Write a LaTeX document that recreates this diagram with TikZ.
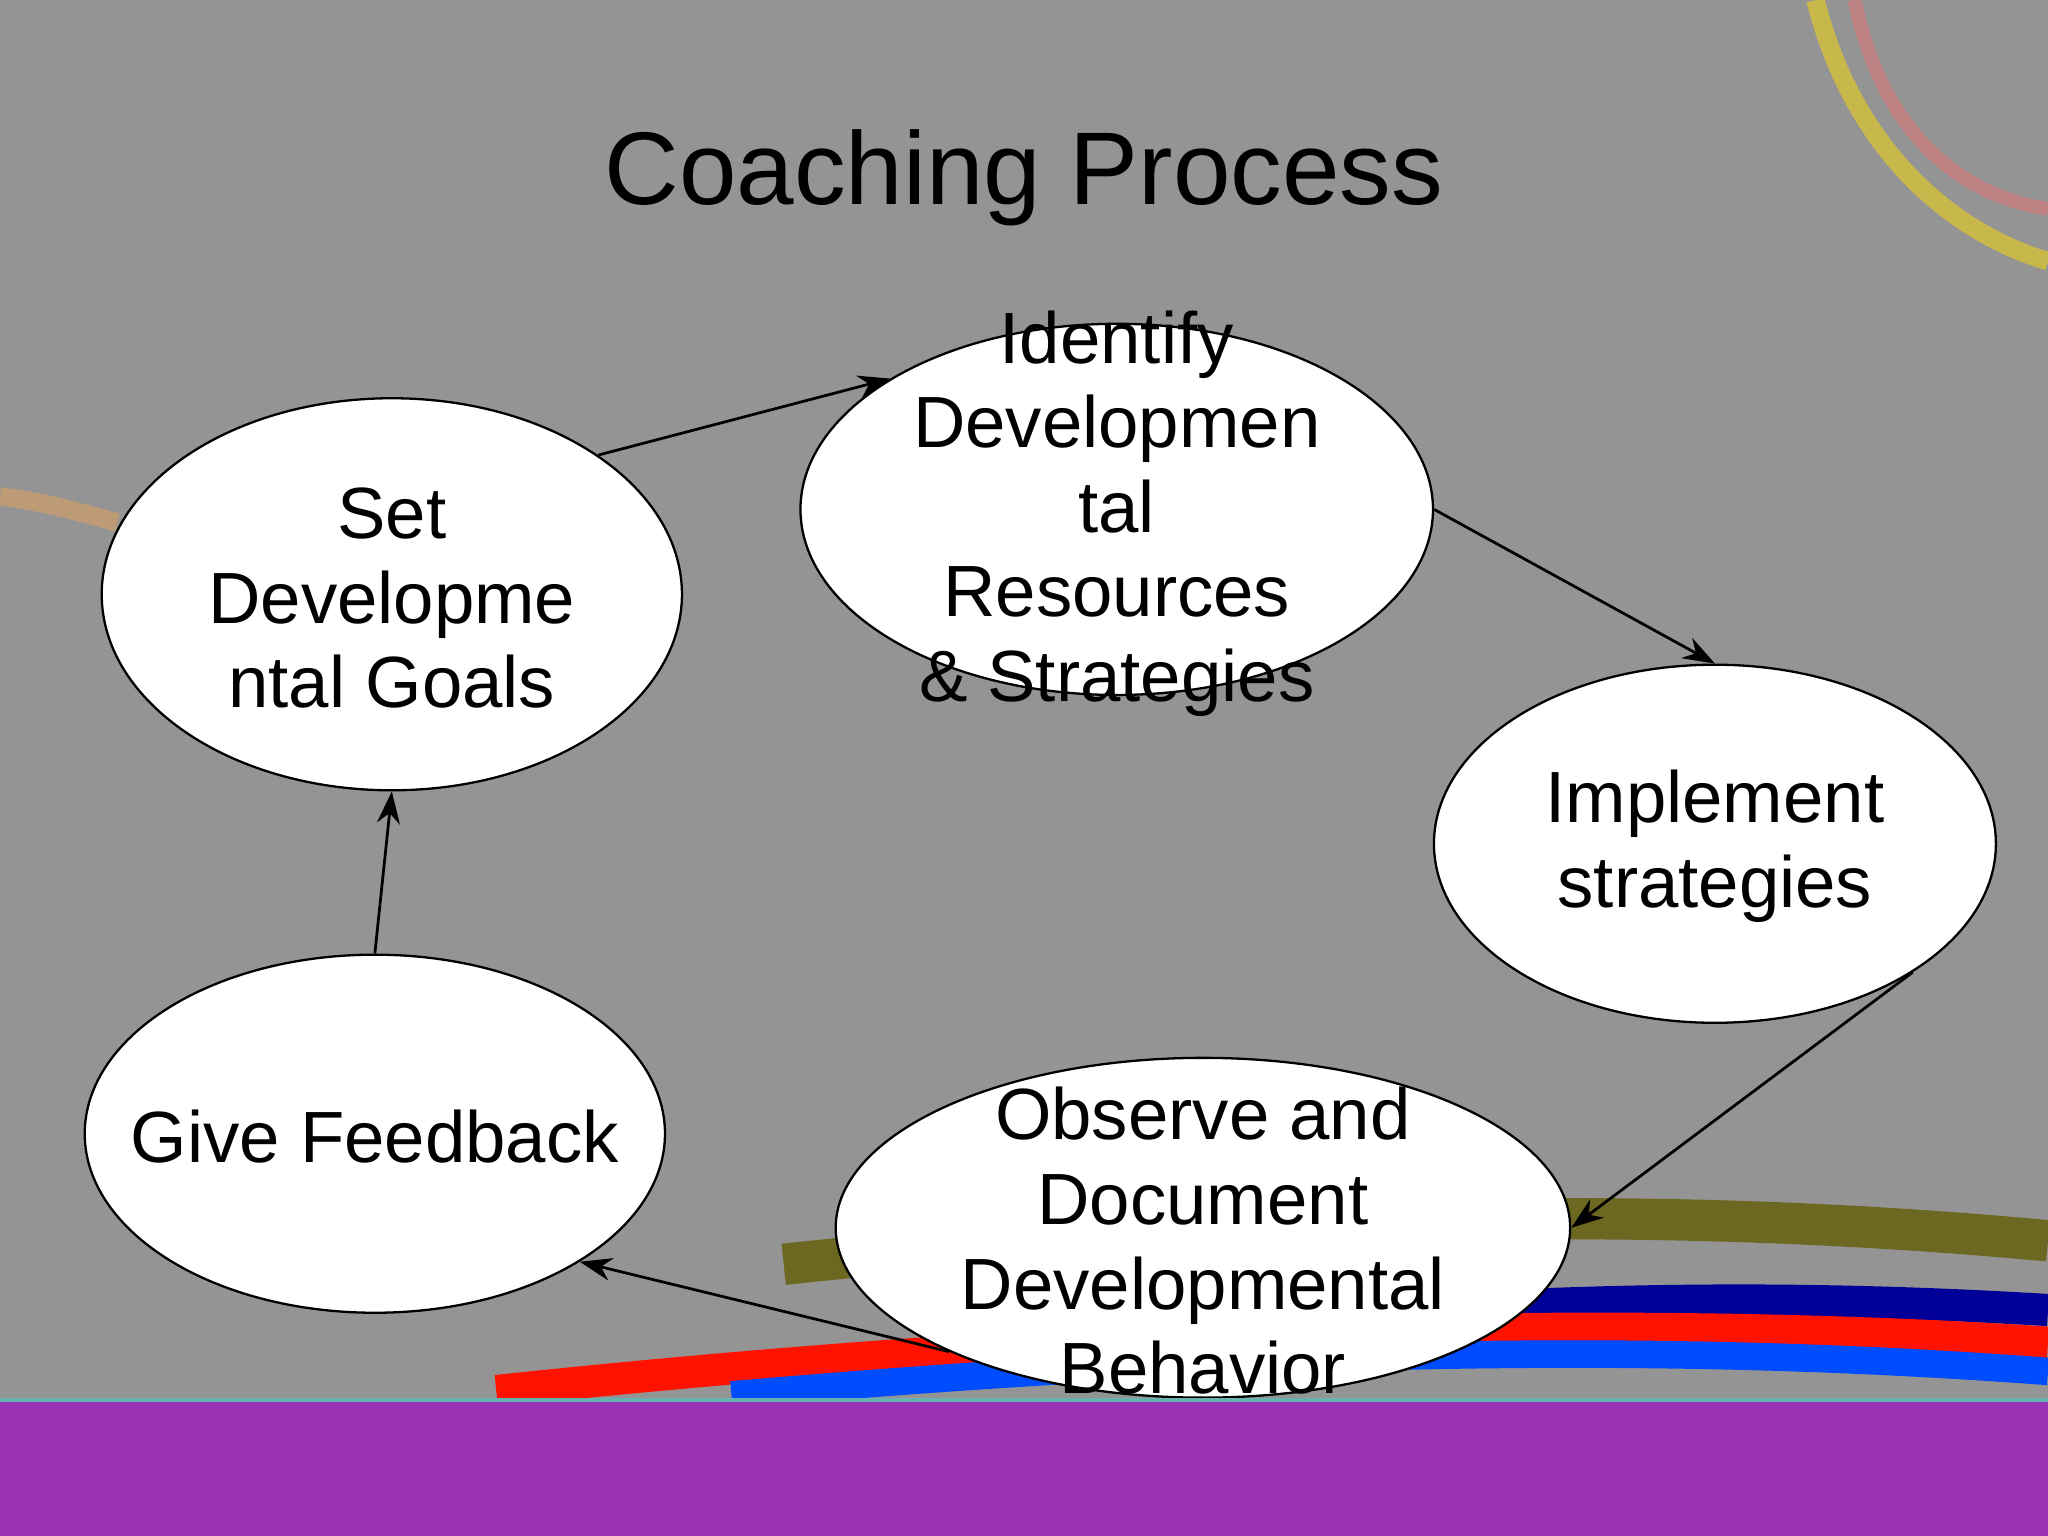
\documentclass[tikz,border=0pt]{standalone}
\usepackage{fontspec}
\setmainfont{Liberation Sans}
\usetikzlibrary{shapes.geometric,arrows.meta}
\definecolor{barpurple}{RGB}{153,51,180}
\begin{document}
\begin{tikzpicture}[x=0.01cm,y=-0.01cm,
  oval/.style={ellipse,draw=black,fill=white,line width=0.5pt,inner sep=0pt},
  lbl/.style={align=center,font=\fontsize{15.8}{18.4}\selectfont},
  conn/.style={-{Stealth[length=7pt,width=5pt]},line width=0.6pt}]
\useasboundingbox (0,0) rectangle (1568,1176);
\fill[black!42] (0,0) rectangle (1568,1176);
% decorative arcs
\draw[line width=9pt,olive!70!black] (600,968) .. controls (1000,925) and (1300,925) .. (1568,950);
\draw[line width=7pt,blue!60!black] (700,1040) .. controls (1100,990) and (1350,990) .. (1568,1003);
\draw[line width=7pt,red!85!orange] (380,1065) .. controls (900,1010) and (1300,1010) .. (1568,1028);
\draw[line width=6pt,blue!70!cyan] (560,1068) .. controls (1000,1030) and (1300,1030) .. (1568,1050);
\draw[line width=4pt,yellow!80!orange,opacity=0.5] (1390,0) .. controls (1420,120) and (1500,180) .. (1568,200);
\draw[line width=3pt,red!60,opacity=0.4] (1420,0) .. controls (1440,100) and (1500,150) .. (1568,160);
\draw[line width=4pt,orange!70,opacity=0.4] (0,380) .. controls (40,385) and (70,395) .. (90,400);
\node[font=\fontsize{22.5}{26}\selectfont] (title) at (784,136) {Coaching Process};
\node[oval,minimum width=4.44cm,minimum height=3.0cm] (set) at (300,455) {};
\node[oval,minimum width=4.84cm,minimum height=2.84cm] (ident) at (855,390) {};
\node[oval,minimum width=4.30cm,minimum height=2.74cm] (impl) at (1313,646) {};
\node[oval,minimum width=5.62cm,minimum height=2.60cm] (obs) at (921,940) {};
\node[oval,minimum width=4.44cm,minimum height=2.74cm] (give) at (287,868) {};
\node[lbl] at (300,458) {Set\\Developme\\ntal Goals};
\node[lbl] at (855,393) {Identify\\Developmen\\tal\\Resources\\\& Strategies};
\node[lbl] at (1313,648) {Implement\\strategies};
\node[lbl] at (921,950) {Observe and\\Document\\Developmental\\Behavior};
\node[lbl] at (287,870) {Give Feedback};
\draw[conn] (set.34) -- (ident.150);
\draw[conn] (ident.east) -- (impl.north);
\draw[conn] (impl.-33) -- (obs.east);
\draw[conn] (obs.-154) -- (give.-32);
\draw[conn] (give.north) -- (set.south);
\fill[barpurple] (0,1072) rectangle (1568,1176);
\draw[line width=1pt,teal!60] (0,1072) -- (1568,1072);
\end{tikzpicture}
\end{document}
